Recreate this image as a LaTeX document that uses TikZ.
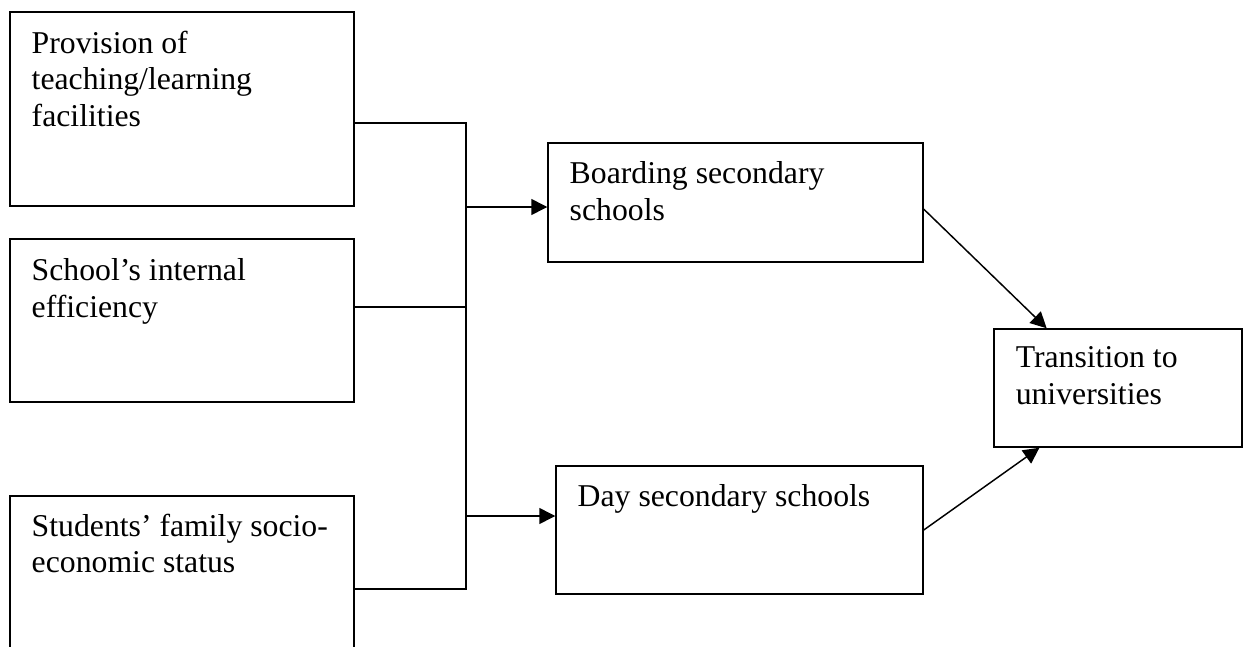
\documentclass[tikz,border=0pt]{standalone}
\usepackage{fontspec}
\setmainfont{Liberation Serif}
\usetikzlibrary{arrows.meta,calc}

\tikzset{every picture/.style={line width=1.1pt}}
\tikzset{
	box/.style={draw, rectangle, inner sep=0pt},
	txt/.style={anchor=north west, inner sep=0pt, align=left, font=\fontsize{23.8}{27.4}\selectfont},
	arr/.style={-{Triangle[length=12pt,width=12pt]}}
}

\begin{document}
\begin{tikzpicture}[x=0.75pt,y=0.75pt,yscale=-1,xscale=1]
	\clip (0,0) rectangle (1248,646);

	%Shape: Rectangle [id:inputs]
	\node[box, minimum width=344*0.75pt, minimum height=194*0.75pt] (facilities) at (182,109) {};
	\node[box, minimum width=344*0.75pt, minimum height=163*0.75pt] (efficiency) at (182,320.5) {};
	\node[box, minimum width=344*0.75pt, minimum height=200*0.75pt] (socioeco) at (182,596) {};
	%Shape: Rectangle [id:schools]
	\node[box, minimum width=375*0.75pt, minimum height=119*0.75pt] (boarding) at (735.5,202.5) {};
	\node[box, minimum width=367*0.75pt, minimum height=128*0.75pt] (day) at (739.5,530) {};
	%Shape: Rectangle [id:output]
	\node[box, minimum width=248*0.75pt, minimum height=118*0.75pt] (transition) at (1118,388) {};

	% Text Node
	\node[txt] (facilitiestxt) at (31,30) {Provision of\\teaching/learning\\facilities};
	% Text Node
	\node[txt] (efficiencytxt) at (31,258) {School’s internal\\efficiency};
	% Text Node
	\node[txt] (socioecotxt) at (31,513) {Students’ family socio-\\economic status};
	% Text Node
	\node[txt] (boardingtxt) at (569,161) {Boarding secondary\\schools};
	% Text Node
	\node[txt] (daytxt) at (577,484) {Day secondary schools};
	% Text Node
	\node[txt] (transitiontxt) at (1015,346) {Transition to\\universities};

	%Straight Lines [id:bus]
	\coordinate (bustop) at (466,123);
	\coordinate (busmid) at (466,307);
	\coordinate (busbot) at (466,589);
	\coordinate (toboarding) at (466,207);
	\coordinate (today) at (466,516);
	\draw (facilities.east |- bustop) -- (bustop) -- (busbot) -- (socioeco.east |- busbot);
	\draw (efficiency.east |- busmid) -- (busmid);
	\draw[arr] (toboarding) -- (boarding.west |- toboarding);
	\draw[arr] (today) -- (day.west |- today);

	%Straight Lines [id:outputs]
	\draw[arr] ($(boarding.north east)!0.555!(boarding.south east)$) -- ($(transition.north west)!0.214!(transition.north east)$);
	\draw[arr] (day.east) -- ($(transition.south west)!0.185!(transition.south east)$);

\end{tikzpicture}
\end{document}
